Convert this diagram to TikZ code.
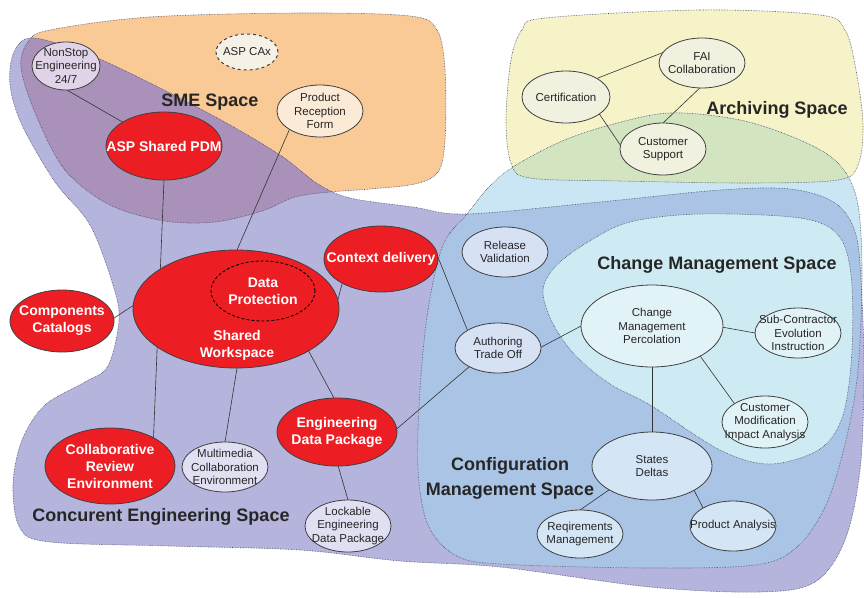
\documentclass[tikz,border=0pt]{standalone}
\usepackage{fontspec}
\setmainfont{Liberation Sans}
\usetikzlibrary{shapes.geometric}
\pgfdeclarelayer{blobs}
\pgfdeclarelayer{edges}
\pgfsetlayers{blobs,edges,main}
\definecolor{smeor}{RGB}{249,201,150}
\definecolor{mauve}{RGB}{170,145,186}
\definecolor{peri}{RGB}{180,180,221}
\definecolor{arch}{RGB}{246,243,200}
\definecolor{archgr}{RGB}{210,228,192}
\definecolor{cfg}{RGB}{202,230,245}
\definecolor{cfgce}{RGB}{170,196,230}
\definecolor{chg}{RGB}{206,235,243}
\definecolor{nred}{RGB}{236,30,36}
\definecolor{bord}{RGB}{70,70,95}
\definecolor{fnon}{RGB}{226,212,232}
\definecolor{fcax}{RGB}{246,241,230}
\definecolor{fprf}{RGB}{251,234,214}
\definecolor{fyel}{RGB}{240,241,222}
\definecolor{flav}{RGB}{224,224,242}
\definecolor{fblu}{RGB}{214,226,243}
\definecolor{fcyn}{RGB}{226,243,248}
\definecolor{fsd}{RGB}{212,229,246}
\newcommand\pSME{plot[smooth cycle, tension=0.55] coordinates {(50,30) (150,17) (300,13) (410,16) (437,30) (445,70) (445,140) (438,172) (415,184) (370,189) (330,192) (295,197) (262,211) (215,222) (165,221) (110,205) (65,170) (36,115) (21,68) (28,42)}}
\newcommand\pCE{plot[smooth cycle, tension=0.55] coordinates {(33,38) (90,55) (160,88) (230,125) (283,157) (318,184) (350,198) (413,207) (467,214) (600,202) (720,190) (790,189) (835,203) (856,235) (862,300) (864,380) (860,470) (845,540) (815,582) (760,592) (650,587) (500,567) (400,561) (300,550) (170,546) (50,542) (20,528) (13,485) (22,440) (45,405) (85,382) (108,366) (119,320) (113,285) (90,225) (55,182) (22,125) (10,85) (14,52)}}
\newcommand\pARC{plot[smooth cycle, tension=0.55] coordinates {(545,18) (700,10) (820,15) (845,30) (856,70) (863,125) (858,165) (838,180) (750,183) (620,181) (530,178) (511,163) (506,120) (511,60) (522,30)}}
\newcommand\pCFG{plot[smooth cycle, tension=0.55] coordinates {(467,214) (488,188) (513,167) (560,142) (610,125) (670,113) (740,120) (800,140) (838,163) (857,200) (862,270) (858,370) (846,440) (826,505) (796,548) (755,565) (650,568) (500,564) (455,555) (428,525) (418,470) (420,390) (428,310) (443,245)}}
\newcommand\pCHG{plot[smooth cycle, tension=0.55] coordinates {(543,290) (552,322) (575,355) (610,384) (650,405) (720,450) (770,464) (820,449) (843,415) (852,350) (851,275) (838,235) (800,218) (700,214) (630,222) (588,242) (556,266)}}
\tikzset{
  blobline/.style={draw=bord, line width=0.6pt, densely dotted},
  base/.style={ellipse, inner sep=0pt, outer sep=0pt, draw=black!75, line width=0.8pt},
  sz/.style 2 args={minimum width=#1pt, minimum height=#2pt},
  rednode/.style={base, fill=nred},
  lbl/.style={align=center, font=\fontsize{11.5}{13.5}\selectfont, text=black!85, inner sep=0pt},
  rlbl/.style={align=center, font=\bfseries\fontsize{14}{17}\selectfont, text=white, inner sep=0pt},
  spacelbl/.style={align=center, font=\bfseries\fontsize{18}{25}\selectfont, text=black!85, inner sep=0pt},
  edge/.style={draw=black!80, line width=0.6pt}
}
\begin{document}
\begin{tikzpicture}[x=1pt,y=-1pt]
\useasboundingbox (0,0) rectangle (864,597);
\begin{pgfonlayer}{blobs}
\fill[white] (0,0) rectangle (864,597);
\fill[smeor] \pSME;
\fill[peri] \pCE;
\begin{scope}
  \clip \pSME;
  \fill[mauve] \pCE;
\end{scope}
\fill[arch] \pARC;
\fill[cfg] \pCFG;
\begin{scope}
  \clip \pCFG;
  \fill[cfgce] \pCE;
  \fill[archgr] \pARC;
\end{scope}
\fill[chg] \pCHG;
\draw[blobline] \pSME;
\draw[blobline] \pCE;
\draw[blobline] \pARC;
\draw[blobline] \pCFG;
\draw[blobline] \pCHG;
\end{pgfonlayer}

% space labels
\node[spacelbl] (smel) at (210,102) {SME Space};
\node[spacelbl] (arcl) at (777,110) {Archiving Space};
\node[spacelbl] (chgl) at (717,265) {Change Management Space};
\node[spacelbl] (cfgl) at (510,478) {Configuration\\Management Space};
\node[spacelbl] (cel) at (161,517) {Concurent Engineering Space};

% nodes
\node[base, fill=fnon, sz={68}{48}] (nonstop) at (66,66) {};
\node[lbl] (nonstop-t) at (nonstop) {NonStop\\Engineering\\24/7};
\node[base, fill=fcax, sz={62}{36}, dashed, line width=1pt] (aspcax) at (247,52) {};
\node[lbl] (aspcax-t) at (aspcax) {ASP CAx};
\node[base, fill=fprf, sz={86}{52}] (prf) at (320,111) {};
\node[lbl] (prf-t) at (prf) {Product\\Reception\\Form};
\node[rednode, sz={116}{68}] (pdm) at (164,146) {};
\node[rlbl] (pdm-t) at (pdm) {ASP Shared PDM};
\node[rednode, sz={206}{118}] (sw) at (236,309) {};
\node[base, sz={104}{60}, draw=black, line width=0.9pt, dash pattern=on 3pt off 2pt] (dp) at (263,291) {};
\node[rlbl] (dp-t) at (dp) {Data\\Protection};
\node[rlbl] (sw-t) at (237,345) {Shared\\Workspace};
\node[rednode, sz={114}{66}] (ctx) at (381,259) {};
\node[rlbl] (ctx-t) at (ctx) {Context delivery};
\node[rednode, sz={104}{62}] (cat) at (62,321) {};
\node[rlbl] (cat-t) at (cat) {Components\\Catalogs};
\node[rednode, sz={130}{76}] (collab) at (110,466) {};
\node[rlbl] (collab-t) at (collab) {Collaborative\\Review\\Environment};
\node[base, fill=flav, sz={86}{50}] (mm) at (225,467) {};
\node[lbl] (mm-t) at (mm) {Multimedia\\Collaboration\\Environment};
\node[rednode, sz={120}{68}] (edp) at (337,432) {};
\node[rlbl] (edp-t) at (edp) {Engineering\\Data Package};
\node[base, fill=flav, sz={86}{52}] (lock) at (348,526) {};
\node[lbl] (lock-t) at (lock) {Lockable\\Engineering\\Data Package};
\node[base, fill=fblu, sz={86}{50}] (rv) at (505,252) {};
\node[lbl] (rv-t) at (rv) {Release\\Validation};
\node[base, fill=fblu, sz={86}{50}] (ato) at (498,348) {};
\node[lbl] (ato-t) at (ato) {Authoring\\Trade Off};
\node[base, fill=fcyn, sz={142}{82}] (cmp) at (652,326) {};
\node[lbl] (cmp-t) at (cmp) {Change\\Management\\Percolation};
\node[base, fill=fcyn, sz={86}{50}] (sub) at (798,333) {};
\node[lbl] (sub-t) at (sub) {Sub-Contractor\\Evolution\\Instruction};
\node[base, fill=fcyn, sz={86}{52}] (cmod) at (765,422) {};
\node[lbl] (cmod-t) at (cmod) {Customer\\Modification\\Impact Analysis};
\node[base, fill=fsd, sz={120}{68}] (sd) at (652,466) {};
\node[lbl] (sd-t) at (sd) {States\\Deltas};
\node[base, fill=fsd, sz={86}{48}] (req) at (580,534) {};
\node[lbl] (req-t) at (req) {Reqirements\\Management};
\node[base, fill=fsd, sz={86}{50}] (pa) at (733,526) {};
\node[lbl] (pa-t) at (pa) {Product Analysis};
\node[base, fill=fyel, sz={88}{52}] (cert) at (566,97) {};
\node[lbl] (cert-t) at (cert) {Certification};
\node[base, fill=fyel, sz={86}{50}] (fai) at (702,63) {};
\node[lbl] (fai-t) at (fai) {FAI\\Collaboration};
\node[base, fill=fyel, sz={86}{52}] (cs) at (663,149) {};
\node[lbl] (cs-t) at (cs) {Customer\\Support};

\begin{pgfonlayer}{edges}
\draw[edge] (nonstop.-88) -- (pdm.150);
\draw[edge] (pdm.-90) -- (collab.33);
\draw[edge] (prf.211) -- (sw.89);
\draw[edge] (cat.3) -- (sw.178);
\draw[edge] (ctx.212) -- (sw.5);
\draw[edge] (sw.-89) -- (mm.90);
\draw[edge] (sw.-30) -- (edp.95);
\draw[edge] (edp.-88) -- (lock.90);
\draw[edge] (edp.3) -- (ato.213);
\draw[edge] (ctx.2) -- (ato.150);
\draw[edge] (ato.1) -- (cmp.180);
\draw[edge] (cmp.-1) -- (sub.180);
\draw[edge] (cmp.-32) -- (cmod.149);
\draw[edge] (cmp.-90) -- (sd.90);
\draw[edge] (sd.209) -- (req.90);
\draw[edge] (sd.-30) -- (pa.149);
\draw[edge] (cert.31) -- (fai.165);
\draw[edge] (cert.-27) -- (cs.175);
\draw[edge] (fai.-95) -- (cs.90);
\end{pgfonlayer}
\end{tikzpicture}
\end{document}
